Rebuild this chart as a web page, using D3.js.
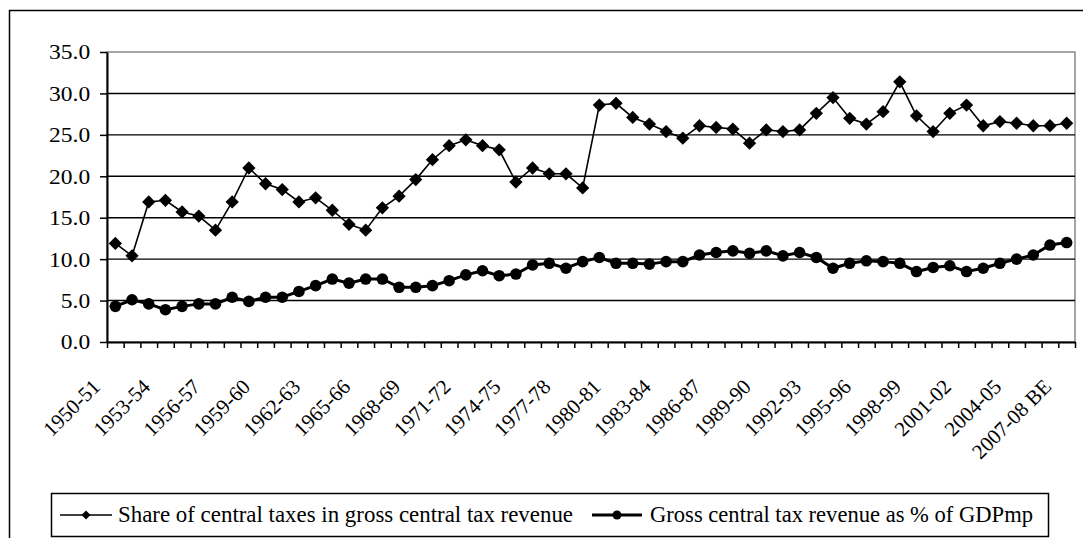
<!DOCTYPE html>
<html lang="en">
<head>
<meta charset="UTF-8">
<title>Central tax revenue</title>
<script src="https://d3js.org/d3.v7.min.js"></script>
<style>
    body { margin: 0; background: #fff; }
</style>
</head>
<body>
<script>
// fiscal years, one per point
var years = ["1950-51","1951-52","1952-53","1953-54","1954-55","1955-56","1956-57","1957-58","1958-59","1959-60",
    "1960-61","1961-62","1962-63","1963-64","1964-65","1965-66","1966-67","1967-68","1968-69","1969-70",
    "1970-71","1971-72","1972-73","1973-74","1974-75","1975-76","1976-77","1977-78","1978-79","1979-80",
    "1980-81","1981-82","1982-83","1983-84","1984-85","1985-86","1986-87","1987-88","1988-89","1989-90",
    "1990-91","1991-92","1992-93","1993-94","1994-95","1995-96","1996-97","1997-98","1998-99","1999-00",
    "2000-01","2001-02","2002-03","2003-04","2004-05","2005-06","2006-07","2007-08 BE"];

// labels that are printed under the axis
var shownLabels = ["1950-51","1953-54","1956-57","1959-60","1962-63","1965-66","1968-69","1971-72","1974-75",
    "1977-78","1980-81","1983-84","1986-87","1989-90","1992-93","1995-96","1998-99","2001-02","2004-05","2007-08 BE"];

// Share of central taxes in gross central tax revenue
var shareCentral = [11.9,10.4,16.9,17.1,15.7,15.2,13.5,16.9,21.0,19.1,
    18.4,16.9,17.4,15.9,14.2,13.5,16.2,17.6,19.6,22.0,
    23.7,24.4,23.7,23.2,19.3,21.0,20.3,20.3,18.6,28.6,
    28.8,27.1,26.3,25.4,24.6,26.1,25.9,25.7,24.0,25.6,
    25.4,25.6,27.6,29.5,27.0,26.3,27.8,31.4,27.3,25.4,
    27.6,28.6,26.1,26.6,26.4,26.1,26.1,26.4];

// Gross central tax revenue as % of GDPmp
var grossGdp = [4.3,5.1,4.6,3.9,4.3,4.6,4.6,5.4,4.9,5.4,
    5.4,6.1,6.8,7.6,7.1,7.6,7.6,6.6,6.6,6.8,
    7.4,8.1,8.6,8.0,8.2,9.3,9.5,8.9,9.7,10.2,
    9.5,9.5,9.4,9.7,9.7,10.5,10.8,11.0,10.7,11.0,
    10.4,10.8,10.2,8.9,9.5,9.8,9.7,9.5,8.5,9.0,
    9.2,8.5,8.9,9.5,10.0,10.5,11.7,12.0];

var yTicks = [0,5,10,15,20,25,30,35];

var seriesNames = ["Share of central taxes in gross central tax revenue", "Gross central tax revenue as % of GDPmp"];

var width = 1083, height = 538;
var plot = {left: 107, right: 1075, top: 52, bottom: 342};
var serif = "'Liberation Serif'";

var svg = d3.select("body").append("svg")
    .attr("width", width)
    .attr("height", height);

// outer chart frame (runs off the right and bottom of the picture)
svg.append("rect")
    .attr("x", 9.5).attr("y", 10.5)
    .attr("width", 1100).attr("height", 560)
    .attr("fill", "none").attr("stroke", "#000").attr("stroke-width", 1.5);

var x = d3.scaleBand().domain(years).range([plot.left, plot.right]);
var xEdge = d3.scaleLinear().domain([0, years.length]).range([plot.left, plot.right]);
var y = d3.scaleLinear().domain([0, 35]).range([plot.bottom, plot.top]);
var cx = function(d) { return x(d) + x.bandwidth() / 2; };

// plot area border
svg.append("rect")
    .attr("x", plot.left).attr("y", plot.top)
    .attr("width", plot.right - plot.left).attr("height", plot.bottom - plot.top)
    .attr("fill", "none").attr("stroke", "#888").attr("stroke-width", 1.5);

// horizontal gridlines
svg.append("g").selectAll("line")
    .data(yTicks.filter(function(d) { return d > 0 && d < 35; }))
    .enter().append("line")
    .attr("x1", plot.left).attr("x2", plot.right)
    .attr("y1", function(d) { return y(d); }).attr("y2", function(d) { return y(d); })
    .attr("stroke", "#000").attr("stroke-width", 1.4);

// y axis
var yAxis = svg.append("g")
    .attr("transform", "translate(" + plot.left + ",0)")
    .call(d3.axisLeft(y).tickValues(yTicks).tickFormat(d3.format(".1f")).tickSize(7).tickSizeOuter(0));
yAxis.select(".domain").attr("stroke-width", 2);
yAxis.selectAll(".tick line").attr("stroke-width", 1.5);
yAxis.selectAll(".tick text")
    .attr("x", -15)
    .style("font-family", serif)
    .style("font-size", "21px")
    .attr("transform", "scale(1.12,1)")
    .attr("dy", "0.33em");

// x axis, ticks sit between categories
var xAxis = svg.append("g")
    .attr("transform", "translate(0," + plot.bottom + ")")
    .call(d3.axisBottom(xEdge).tickValues(d3.range(years.length + 1)).tickFormat("").tickSize(6).tickSizeOuter(0));
xAxis.select(".domain").attr("stroke-width", 2);
xAxis.selectAll(".tick line").attr("stroke-width", 1.5);

svg.append("g").selectAll("text")
    .data(shownLabels)
    .enter().append("text")
    .attr("transform", function(d) { return "translate(" + (cx(d) - 14) + "," + (plot.bottom + 46) + ") rotate(-45)"; })
    .attr("text-anchor", "end")
    .style("font-family", serif)
    .style("font-size", "21px")
    .text(function(d) { return d; });

// series lines
var line = d3.line()
    .x(function(d, i) { return cx(years[i]); })
    .y(function(d) { return y(d); });

svg.append("path").datum(shareCentral)
    .attr("d", line).attr("fill", "none").attr("stroke", "#000").attr("stroke-width", 1.6);
svg.append("path").datum(grossGdp)
    .attr("d", line).attr("fill", "none").attr("stroke", "#000").attr("stroke-width", 3);

var diamond = d3.symbol().type(d3.symbolSquare).size(88);
svg.append("g").selectAll("path")
    .data(shareCentral)
    .enter().append("path")
    .attr("d", diamond)
    .attr("transform", function(d, i) { return "translate(" + cx(years[i]) + "," + y(d) + ") rotate(45)"; })
    .attr("fill", "#000");

svg.append("g").selectAll("circle")
    .data(grossGdp)
    .enter().append("circle")
    .attr("cx", function(d, i) { return cx(years[i]); })
    .attr("cy", function(d) { return y(d); })
    .attr("r", 5.8)
    .attr("fill", "#000");

// legend
var legend = svg.append("g");
legend.append("rect")
    .attr("x", 51.5).attr("y", 493.5).attr("width", 997).attr("height", 43)
    .attr("fill", "#fff").attr("stroke", "#000").attr("stroke-width", 1.5);

var legendItems = [
    {name: seriesNames[0], x0: 60, x1: 112, text: 118, tw: 455, sw: 1.6, mark: "diamond"},
    {name: seriesNames[1], x0: 592, x1: 642, text: 650, tw: 383, sw: 3, mark: "circle"}
];
var ly = 515;
legendItems.forEach(function(it) {
    legend.append("line")
        .attr("x1", it.x0).attr("x2", it.x1).attr("y1", ly).attr("y2", ly)
        .attr("stroke", "#000").attr("stroke-width", it.sw);
    var mx = (it.x0 + it.x1) / 2;
    if (it.mark === "diamond") {
        legend.append("path").attr("d", d3.symbol().type(d3.symbolSquare).size(40))
            .attr("transform", "translate(" + mx + "," + ly + ") rotate(45)").attr("fill", "#000");
    } else {
        legend.append("circle").attr("cx", mx).attr("cy", ly).attr("r", 4.5).attr("fill", "#000");
    }
    legend.append("text")
        .attr("x", it.text).attr("y", ly + 7)
        .attr("textLength", it.tw).attr("lengthAdjust", "spacingAndGlyphs")
        .style("font-family", serif)
        .style("font-size", "23px")
        .text(it.name);
});
</script>
</body>
</html>
